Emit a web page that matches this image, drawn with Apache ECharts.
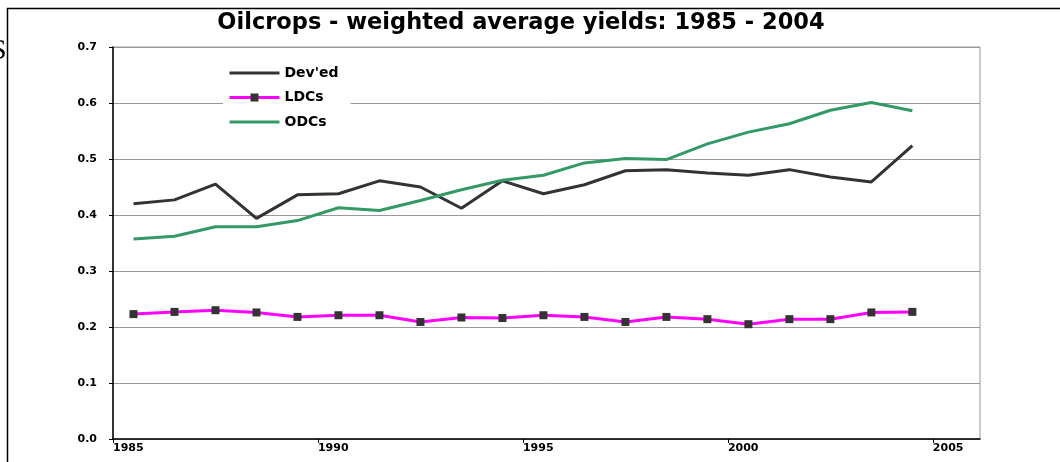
<!DOCTYPE html>
<html>
<head>
<meta charset="utf-8">
<title>Oilcrops - weighted average yields</title>
<script src="https://cdn.jsdelivr.net/npm/echarts@6/dist/echarts.min.js"></script>
<style>
  html, body { margin: 0; padding: 0; background: #fff; }
  #chart { width: 1060px; height: 462px; }
</style>
</head>
<body>
<div id="chart"></div>
<script>
// 年份 (1985 - 2004)
var years = [1985, 1986, 1987, 1988, 1989, 1990, 1991, 1992, 1993, 1994,
             1995, 1996, 1997, 1998, 1999, 2000, 2001, 2002, 2003, 2004];
var devedVals = [0.420, 0.427, 0.455, 0.394, 0.436, 0.438, 0.461, 0.450, 0.412, 0.461,
                 0.438, 0.454, 0.479, 0.481, 0.475, 0.471, 0.481, 0.468, 0.459, 0.524];
var ldcVals = [0.223, 0.227, 0.230, 0.226, 0.218, 0.221, 0.221, 0.209, 0.217, 0.216,
               0.221, 0.218, 0.209, 0.218, 0.214, 0.205, 0.214, 0.214, 0.226, 0.227];
var odcVals = [0.357, 0.362, 0.379, 0.379, 0.390, 0.413, 0.408, 0.426, 0.445, 0.462,
               0.471, 0.493, 0.501, 0.499, 0.527, 0.548, 0.563, 0.587, 0.601, 0.586];
var xTicks = [1985, 1990, 1995, 2000, 2005];
var seriesNames = ['Dev\'ed', 'LDCs', 'ODCs'];

// points sit mid-year, like the original sheet
function pairs(vals) {
    return years.map(function (y, i) { return [y + 0.5, vals[i]]; });
}

var chart = echarts.init(document.getElementById('chart'));
var labelFont = { fontFamily: 'DejaVu Sans', fontWeight: 'bold', fontSize: 11, color: '#000' };

chart.setOption({
    backgroundColor: '#fff',
    animation: false,
    graphic: [{
        // outer frame: only top and left edges are on the page
        type: 'polyline',
        shape: { points: [[7.5, 470], [7.5, 8.5], [1070, 8.5]] },
        style: { fill: null, stroke: '#000', lineWidth: 1.5 },
        silent: true
    }, {
        type: 'text',
        x: -10,
        y: 36,
        style: { text: 'S', fontFamily: 'Liberation Serif', fontSize: 30, fill: '#000' },
        silent: true
    }, {
        type: 'text',
        x: 521,
        y: 23,
        style: {
            text: 'Oilcrops - weighted average yields: 1985 - 2004',
            fontFamily: 'DejaVu Sans',
            fontWeight: 'bold',
            fontSize: 22.5,
            fill: '#000',
            align: 'center',
            verticalAlign: 'middle'
        },
        silent: true
    }],
    legend: {
        orient: 'vertical',
        left: 223,
        top: 61,
        padding: [5, 12, 5, 5],
        itemGap: 10.5,
        itemWidth: 50,
        itemHeight: 10,
        backgroundColor: '#fff',
        lineStyle: { width: 3 },
        data: [
            { name: seriesNames[0], itemStyle: { opacity: 0 } },
            { name: seriesNames[1] },
            { name: seriesNames[2], itemStyle: { opacity: 0 } }
        ],
        textStyle: {
            fontFamily: 'DejaVu Sans',
            fontWeight: 'bold',
            fontSize: 14,
            color: '#000'
        }
    },
    grid: {
        left: 113,
        right: 80,
        top: 47,
        bottom: 23,
        show: true,
        borderColor: '#999',
        borderWidth: 1,
        containLabel: false
    },
    xAxis: {
        type: 'value',
        min: 1985,
        max: 2006.15,
        interval: 5,
        axisLine: { lineStyle: { color: '#000', width: 1.5 } },
        axisTick: { show: true, length: 4, customValues: xTicks, lineStyle: { color: '#000' } },
        axisLabel: Object.assign({
            customValues: xTicks,
            align: 'left',
            margin: 4,
            formatter: function (v) { return String(v); }
        }, labelFont),
        splitLine: { show: false }
    },
    yAxis: {
        type: 'value',
        min: 0,
        max: 0.7,
        interval: 0.1,
        axisLine: { show: true, lineStyle: { color: '#000', width: 1.5 } },
        axisTick: { show: true, length: 4, lineStyle: { color: '#000' } },
        axisLabel: Object.assign({
            margin: 16,
            formatter: function (v) { return v.toFixed(1); }
        }, labelFont),
        splitLine: { lineStyle: { color: '#999', width: 1 } }
    },
    series: [{
        name: seriesNames[0],
        type: 'line',
        symbol: 'none',
        lineStyle: { color: '#333333', width: 3 },
        itemStyle: { color: '#333333' },
        data: pairs(devedVals)
    }, {
        name: seriesNames[1],
        type: 'line',
        symbol: 'rect',
        symbolSize: 8,
        lineStyle: { color: '#FF00FF', width: 3 },
        itemStyle: { color: '#333333' },
        data: pairs(ldcVals)
    }, {
        name: seriesNames[2],
        type: 'line',
        symbol: 'none',
        lineStyle: { color: '#339966', width: 3 },
        itemStyle: { color: '#339966' },
        data: pairs(odcVals)
    }]
});
</script>
</body>
</html>
